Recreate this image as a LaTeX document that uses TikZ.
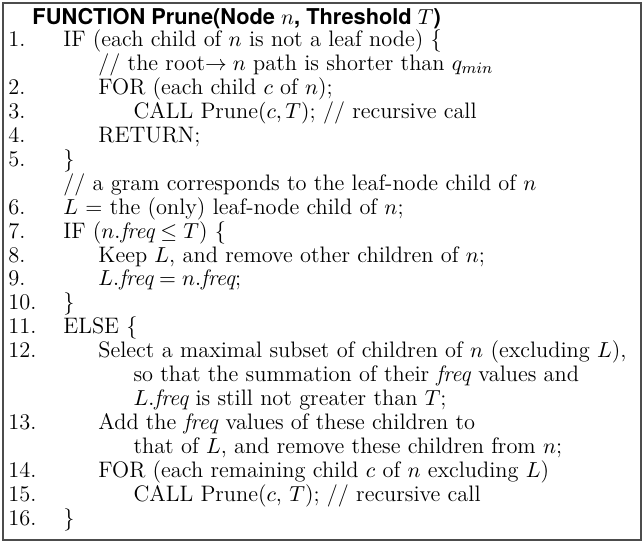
\documentclass[tikz,border=0pt]{standalone}
\usepackage{fontspec}
\newfontfamily\headfont{TeX Gyre Heros}
\usetikzlibrary{positioning}
\begin{document}
\begin{tikzpicture}
	\useasboundingbox (0,0) rectangle (325pt,274pt);
	\node (frame)[draw=black!70,line width=0.8pt,minimum width=322pt,minimum height=271pt,inner sep=0pt] at (162.5pt,137pt) {};
	\node (title)[anchor=base west,inner sep=0pt] at (16.2pt,261.8pt){\fontsize{11}{12}\selectfont\headfont\bfseries FUNCTION Prune(Node $n$, Threshold $T$)};

	% the numbered lines
	\node (body)[anchor=north west,inner sep=0pt] at ([xshift=-12.2pt,yshift=-2.55pt]title.base west){%
		\fontsize{11.3}{12.07}\selectfont
		\begin{tabular}{@{}p{27.8pt}@{}l@{}}
		1. & IF (each child of $n$ is not a leaf node) \{ \\
		   & \hspace{17.7pt}// the root$\rightarrow n$ path is shorter than $q_{min}$ \\
		2. & \hspace{17.7pt}FOR (each child $c$ of $n$); \\
		3. & \hspace{35.4pt}CALL Prune$(c,T)$; // recursive call \\
		4. & \hspace{17.7pt}RETURN; \\
		5. & \} \\
		   & // a gram corresponds to the leaf-node child of $n$ \\
		6. & $L$ = the (only) leaf-node child of $n$; \\
		7. & IF ($n.\textit{freq} \leq T$) \{ \\
		8. & \hspace{17.7pt}Keep $L$, and remove other children of $n$; \\
		9. & \hspace{17.7pt}$L.\textit{freq} = n.\textit{freq}$; \\
		10. & \} \\
		11. & ELSE \{ \\
		12. & \hspace{17.7pt}Select a maximal subset of children of $n$ (excluding $L$), \\
		    & \hspace{35.4pt}so that the summation of their \textit{freq} values and \\
		    & \hspace{35.4pt}$L.\textit{freq}$ is still not greater than $T$; \\
		13. & \hspace{17.7pt}Add the \textit{freq} values of these children to \\
		    & \hspace{35.4pt}that of $L$, and remove these children from $n$; \\
		14. & \hspace{17.7pt}FOR (each remaining child $c$ of $n$ excluding $L$) \\
		15. & \hspace{35.4pt}CALL Prune($c$, $T$); // recursive call \\
		16. & \} \\
		\end{tabular}
	};
\end{tikzpicture}
\end{document}
